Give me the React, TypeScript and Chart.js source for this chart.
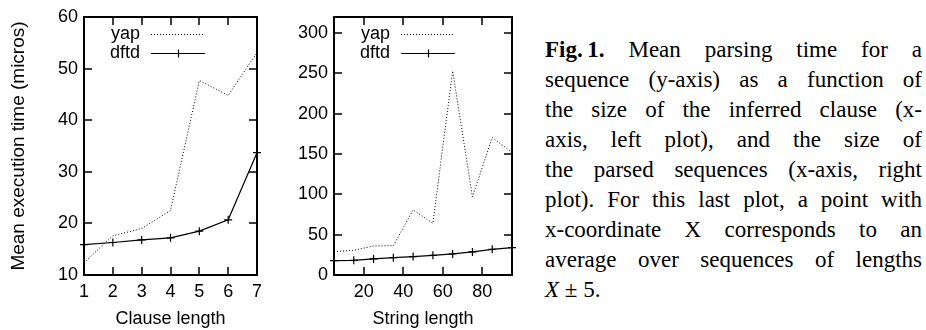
import React, { useEffect, useRef } from 'react';
import { Chart, registerables } from 'chart.js';

Chart.register(...registerables);

// ---- data: left plot (clause length) ----
const clauseLengths = [1, 2, 3, 4, 5, 6, 7];
const clauseYap = [12.4, 17.6, 19.0, 22.5, 47.7, 44.8, 53.1];
const clauseDftd = [15.9, 16.3, 16.8, 17.2, 18.5, 20.7, 33.7];
const clauseXTicks = [1, 2, 3, 4, 5, 6, 7];
const clauseYTicks = [10, 20, 30, 40, 50, 60];

// ---- data: right plot (string length) ----
const stringLengths = [5, 15, 25, 35, 45, 55, 65, 75, 85, 95];
const stringYap = [29, 30.6, 36, 36.4, 80.7, 64, 253, 97, 170.5, 152];
const stringDftd = [17.8, 18.2, 19.9, 21.5, 22.8, 24.4, 26.1, 28.6, 31.9, 33.9];
const stringXTicks = [20, 40, 60, 80];
const stringYTicks = [0, 50, 100, 150, 200, 250, 300];

const seriesNames = ['yap', 'dftd'];

const captionLines = [
  <><b>Fig.{'\u2009'}1.</b> Mean parsing time for a</>,
  <>sequence (y-axis) as a function of</>,
  <>the size of the inferred clause (x-</>,
  <>axis, left plot), and the size of</>,
  <>the parsed sequences (x-axis, right</>,
  <>plot). For this last plot, a point with</>,
  <>x-coordinate X corresponds to an</>,
  <>average over sequences of lengths</>,
  <><i>X</i> ± 5.</>,
];

const FONT = "'Liberation Sans', Arial, Helvetica, sans-serif";
const FS = 18;

const gnuplotFrame = {
  id: 'gnuplotFrame',
  afterDatasetsDraw(chart: any) {
    const { ctx, chartArea: a, scales } = chart;
    const L = 8;
    ctx.save();
    ctx.strokeStyle = '#000';
    ctx.lineWidth = 1.5;
    ctx.setLineDash([]);
    ctx.beginPath();
    for (const t of scales.x.ticks) {
      const px = Math.round(scales.x.getPixelForValue(t.value));
      ctx.moveTo(px, a.bottom);
      ctx.lineTo(px, a.bottom - L);
      ctx.moveTo(px, a.top);
      ctx.lineTo(px, a.top + L);
    }
    for (const t of scales.y.ticks) {
      const py = Math.round(scales.y.getPixelForValue(t.value));
      ctx.moveTo(a.left, py);
      ctx.lineTo(a.left + L, py);
      ctx.moveTo(a.right, py);
      ctx.lineTo(a.right - L, py);
    }
    ctx.stroke();
    ctx.lineWidth = 2;
    ctx.strokeRect(a.left, a.top, a.right - a.left, a.bottom - a.top);

    // gnuplot-style key: text right-aligned, then the line sample
    ctx.font = `${FS}px ${FONT}`;
    ctx.fillStyle = '#000';
    ctx.textAlign = 'right';
    ctx.textBaseline = 'middle';
    chart.data.datasets.forEach((ds: any, i: number) => {
      const y = Math.round(a.top + 17 + i * 19) + 0.5;
      ctx.fillText(ds.label, a.left + 56, y);
      ctx.strokeStyle = ds.borderColor;
      ctx.lineWidth = ds.borderWidth;
      ctx.setLineDash(ds.borderDash || []);
      ctx.beginPath();
      ctx.moveTo(a.left + 67, y);
      ctx.lineTo(a.left + 121, y);
      ctx.stroke();
      ctx.setLineDash([]);
      if (ds.pointRadius > 0) {
        const cx = Math.round(a.left + 94) + 0.5;
        const r = ds.pointRadius;
        ctx.beginPath();
        ctx.moveTo(cx, y - r);
        ctx.lineTo(cx, y + r);
        ctx.stroke();
      }
    });
    ctx.restore();
  },
};

function makeConfig(p: any) {
  const tickFont = { family: FONT, size: FS };
  return {
    type: 'line',
    data: {
      datasets: [
        {
          label: seriesNames[0],
          data: p.xs.map((x: number, i: number) => ({ x, y: p.yap[i] })),
          borderColor: '#000',
          borderWidth: 1,
          borderDash: [1, 2],
          pointRadius: 0,
          fill: false,
          tension: 0,
          clip: false,
        },
        {
          label: seriesNames[1],
          data: p.xs.map((x: number, i: number) => ({ x, y: p.dftd[i] })),
          borderColor: '#000',
          borderWidth: 1.2,
          pointStyle: 'cross',
          pointRadius: 4,
          pointBorderWidth: 1.2,
          pointBorderColor: '#000',
          fill: false,
          tension: 0,
          clip: false,
        },
      ],
    },
    options: {
      animation: false,
      responsive: false,
      events: [],
      layout: { padding: { top: 17, right: p.padRight, left: 0, bottom: 0 } },
      plugins: { legend: { display: false }, tooltip: { enabled: false } },
      scales: {
        x: {
          type: 'linear',
          min: p.xMin,
          max: p.xMax,
          afterBuildTicks: (s: any) => {
            s.ticks = p.xTicks.map((v: number) => ({ value: v }));
          },
          afterFit: (s: any) => {
            s.height = 55;
            s.paddingLeft = 0;
            s.paddingRight = 0;
          },
          grid: { display: false, drawTicks: false },
          border: { display: false },
          ticks: { color: '#000', font: tickFont, padding: 6, autoSkip: false, maxRotation: 0 },
          title: {
            display: true,
            text: p.xTitle,
            color: '#000',
            font: tickFont,
            padding: { top: 0, bottom: 0 },
          },
        },
        y: {
          type: 'linear',
          min: p.yMin,
          max: p.yMax,
          afterBuildTicks: (s: any) => {
            s.ticks = p.yTicks.map((v: number) => ({ value: v }));
          },
          afterFit: (s: any) => {
            s.width = p.yWidth;
            s.paddingTop = 0;
            s.paddingBottom = 0;
          },
          grid: { display: false, drawTicks: false },
          border: { display: false },
          ticks: { color: '#000', font: tickFont, padding: 6, autoSkip: false },
          title: {
            display: !!p.yTitle,
            text: p.yTitle || '',
            color: '#000',
            font: { family: FONT, size: 19 },
            padding: { top: 7, bottom: 0 },
          },
        },
      },
    },
    plugins: [gnuplotFrame],
  } as any;
}

export default function App() {
  const leftRef = useRef<HTMLCanvasElement>(null);
  const rightRef = useRef<HTMLCanvasElement>(null);

  useEffect(() => {
    const c1 = new Chart(
      leftRef.current as HTMLCanvasElement,
      makeConfig({
        xs: clauseLengths,
        yap: clauseYap,
        dftd: clauseDftd,
        xMin: 1,
        xMax: 7,
        yMin: 10,
        yMax: 60,
        xTicks: clauseXTicks,
        yTicks: clauseYTicks,
        xTitle: 'Clause length',
        yTitle: 'Mean execution time (micros)',
        yWidth: 84,
        padRight: 13,
      })
    );
    const c2 = new Chart(
      rightRef.current as HTMLCanvasElement,
      makeConfig({
        xs: stringLengths,
        yap: stringYap,
        dftd: stringDftd,
        xMin: 5,
        xMax: 95,
        yMin: 0,
        yMax: 320,
        xTicks: stringXTicks,
        yTicks: stringYTicks,
        xTitle: 'String length',
        yTitle: '',
        yWidth: 64,
        padRight: 18,
      })
    );
    return () => {
      c1.destroy();
      c2.destroy();
    };
  }, []);

  return (
    <div style={{ position: 'fixed', left: 0, top: 0, width: 926, height: 330, background: '#fff' }}>
      <canvas ref={leftRef} width={270} height={330} style={{ position: 'absolute', left: 0, top: 0 }} />
      <canvas ref={rightRef} width={260} height={330} style={{ position: 'absolute', left: 270, top: 0 }} />
      <div
        style={{
          position: 'absolute',
          left: 545,
          top: 35,
          width: 377,
          fontFamily: "'Liberation Serif', 'Times New Roman', serif",
          fontSize: 23,
          lineHeight: '30px',
          color: '#000',
        }}
      >
        {captionLines.map((line, i) => (
          <div
            key={i}
            style={{
              textAlign: 'justify',
              textAlignLast: i === captionLines.length - 1 ? 'left' : 'justify',
              whiteSpace: 'nowrap',
            }}
          >
            {line}
          </div>
        ))}
      </div>
    </div>
  );
}
